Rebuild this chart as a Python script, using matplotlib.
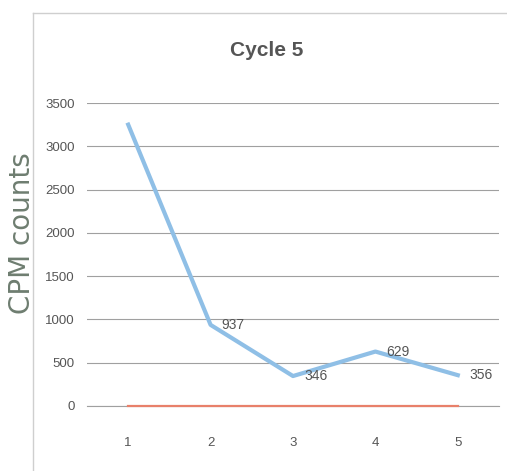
import matplotlib
matplotlib.use("Agg")
import matplotlib.pyplot as plt
from matplotlib.lines import Line2D

cycles = [1, 2, 3, 4, 5]
cpm_blue = [3250, 937, 346, 629, 356]
cpm_red = [5, 5, 5, 5, 5]
labels = ["", "937", "346", "629", "356"]
yticks = [0, 500, 1000, 1500, 2000, 2500, 3000, 3500]

plt.rcParams['font.family'] = ['Liberation Sans', 'DejaVu Sans']
fig = plt.figure(figsize=(5.07, 4.71), dpi=100)
fig.patch.set_facecolor('white')

# outer chart frame
fig.add_artist(Line2D([33/507, 33/507], [0, 1 - 13/471], color='#cfcfcf', lw=1.0))
fig.add_artist(Line2D([33/507, 1], [1 - 13/471, 1 - 13/471], color='#cfcfcf', lw=1.0))

ax = fig.add_axes([87/507, 1 - 406/471, 412/507, 303/471])
ax.plot(cycles, cpm_blue, color='#8fbfe6', lw=3, solid_joinstyle='round', zorder=4)
ax.plot(cycles, cpm_red, color='#e8806a', lw=1.6, zorder=5, clip_on=False)
ax.set_xlim(0.5, 5.5)
ax.set_ylim(0, 3500)
ax.set_yticks(yticks)
ax.set_xticks(cycles)
ax.grid(axis='y', color='#a0a0a0', lw=0.8)
ax.set_axisbelow(True)
for s in ['top', 'right', 'left']:
    ax.spines[s].set_visible(False)
ax.spines['bottom'].set_color('#a0a0a0')
ax.spines['bottom'].set_zorder(1)
ax.tick_params(axis='both', length=0, colors='#555555', labelsize=9.5)
ax.tick_params(axis='x', pad=22)
ax.tick_params(axis='y', pad=9)

for x, y, t in zip(cycles, cpm_blue, labels):
    if t:
        ax.annotate(t, (x, y), xytext=(8, 0), textcoords='offset points',
                    fontsize=10, color='#555555', ha='left', va='center', zorder=6)

fig.text(267/507, 1 - 50/471, "Cycle 5", ha='center', va='center', fontsize=15,
         fontweight='bold', color='#555555')
fig.text(22/507, 1 - 233/471, "CPM counts", ha='center', va='center', rotation=90,
         fontsize=20, color='#6e7d70', family='DejaVu Sans')

fig.savefig("out.png", dpi=100)
